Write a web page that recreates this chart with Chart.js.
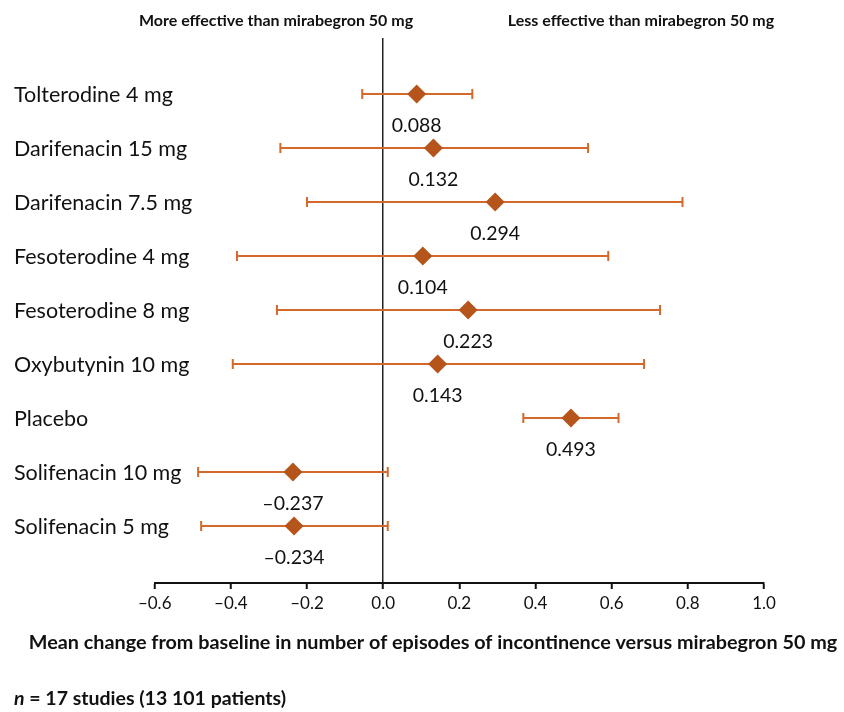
<!DOCTYPE html>
<html>
<head>
<meta charset="utf-8">
<script src="https://cdn.jsdelivr.net/npm/chart.js@4.4.1/dist/chart.umd.min.js"></script>
<style>
  body { margin: 0; background: #fff; }
  #wrap { width: 844px; height: 712px; position: relative; }
</style>
</head>
<body>
<div id="wrap"><canvas id="chart"></canvas></div>
<script>
const categories = ['Tolterodine 4 mg', 'Darifenacin 15 mg', 'Darifenacin 7.5 mg', 'Fesoterodine 4 mg', 'Fesoterodine 8 mg', 'Oxybutynin 10 mg', 'Placebo', 'Solifenacin 10 mg', 'Solifenacin 5 mg'];
const meanDiff = [0.088, 0.132, 0.294, 0.104, 0.223, 0.143, 0.493, -0.237, -0.234];
const ciLow = [-0.055, -0.270, -0.200, -0.384, -0.279, -0.395, 0.368, -0.486, -0.478];
const ciHigh = [0.234, 0.538, 0.786, 0.591, 0.727, 0.685, 0.618, 0.012, 0.012];
const xTicks = [-0.6, -0.4, -0.2, 0.0, 0.2, 0.4, 0.6, 0.8, 1.0];

const whiskerColor = '#D4692B';
const diamondColor = '#B5551B';
const FONT = 'Lato';

const fmt = (v, d) => v.toFixed(d).replace('-', '\u2013');

// one line dataset per row for the CI, caps are rotated 'line' points
const whiskers = categories.map((c, i) => ({
  type: 'line',
  label: c,
  data: [{ x: ciLow[i], y: i }, { x: ciHigh[i], y: i }],
  borderColor: whiskerColor,
  borderWidth: 2,
  pointStyle: 'line',
  pointRotation: 90,
  pointRadius: 5,
  pointBorderWidth: 2,
  pointBorderColor: whiskerColor,
  order: 1
}));

const textPlugin = {
  id: 'forestText',
  afterDatasetsDraw(chart) {
    const ctx = chart.ctx;
    const meta = chart.getDatasetMeta(0);
    const yScale = chart.scales.y;
    ctx.save();
    ctx.fillStyle = '#111';
    ctx.textBaseline = 'middle';
    // value under each diamond
    ctx.font = '19.5px ' + FONT;
    ctx.textAlign = 'center';
    meta.data.forEach((pt, i) => {
      ctx.fillText(fmt(meanDiff[i], 3), pt.x, pt.y + 32);
    });
    // row names (the axis would clip them, they run into the plot)
    ctx.font = '21.5px ' + FONT;
    ctx.textAlign = 'left';
    categories.forEach((c, i) => {
      ctx.fillText(c, 14, yScale.getPixelForValue(i) + 1);
    });
    ctx.restore();
  },
  afterDraw(chart) {
    const ctx = chart.ctx;
    ctx.save();
    ctx.fillStyle = '#111';
    ctx.textBaseline = 'middle';
    ctx.textAlign = 'center';
    ctx.font = 'bold 16px ' + FONT;
    ctx.fillText('More effective than mirabegron 50 mg', 276, 21);
    ctx.fillText('Less effective than mirabegron 50 mg', 641, 21);

    ctx.font = 'bold 19.8px ' + FONT;
    ctx.fillText('Mean change from baseline in number of episodes of incontinence versus mirabegron 50 mg', 433, 643);

    ctx.textAlign = 'left';
    ctx.font = 'italic bold 19.5px ' + FONT;
    ctx.fillText('n', 14, 699);
    const w = ctx.measureText('n').width;
    ctx.font = 'bold 19.5px ' + FONT;
    ctx.fillText(' = 17 studies (13 101 patients)', 14 + w, 699);
    ctx.restore();
  }
};

new Chart(document.getElementById('chart'), {
  type: 'scatter',
  data: {
    datasets: [{
      label: 'Mean difference',
      data: meanDiff.map((v, i) => ({ x: v, y: i })),
      pointStyle: 'rectRot',
      pointRadius: 9.5,
      pointHoverRadius: 9.5,
      backgroundColor: diamondColor,
      borderWidth: 0,
      order: 0
    }, ...whiskers]
  },
  options: {
    responsive: true,
    maintainAspectRatio: false,
    animation: false,
    layout: { padding: { top: 38, left: 14, right: 80, bottom: 0 } },
    plugins: { legend: { display: false }, tooltip: { enabled: false } },
    scales: {
      x: {
        type: 'linear',
        min: -0.6,
        max: 1.0,
        afterBuildTicks: axis => { axis.ticks = xTicks.map(v => ({ value: v })); },
        afterFit: axis => { axis.height = 129; },
        border: { display: true, color: '#111', width: 2 },
        grid: {
          color: c => (c.tick && c.tick.value === 0 ? '#222' : 'rgba(0,0,0,0)'),
          lineWidth: 1.5,
          tickColor: '#111',
          tickLength: 6,
          tickWidth: 2
        },
        ticks: {
          font: { family: FONT, size: 17 },
          color: '#111',
          padding: 4,
          callback: v => fmt(v, 1)
        }
      },
      y: {
        type: 'linear',
        reverse: true,
        min: -1.037,
        max: 9.056,
        afterBuildTicks: axis => { axis.ticks = categories.map((c, i) => ({ value: i })); },
        afterFit: axis => { axis.width = 140.7; },
        border: { display: false },
        grid: { display: false },
        ticks: { display: false }
      }
    }
  },
  plugins: [textPlugin]
});
</script>
</body>
</html>
